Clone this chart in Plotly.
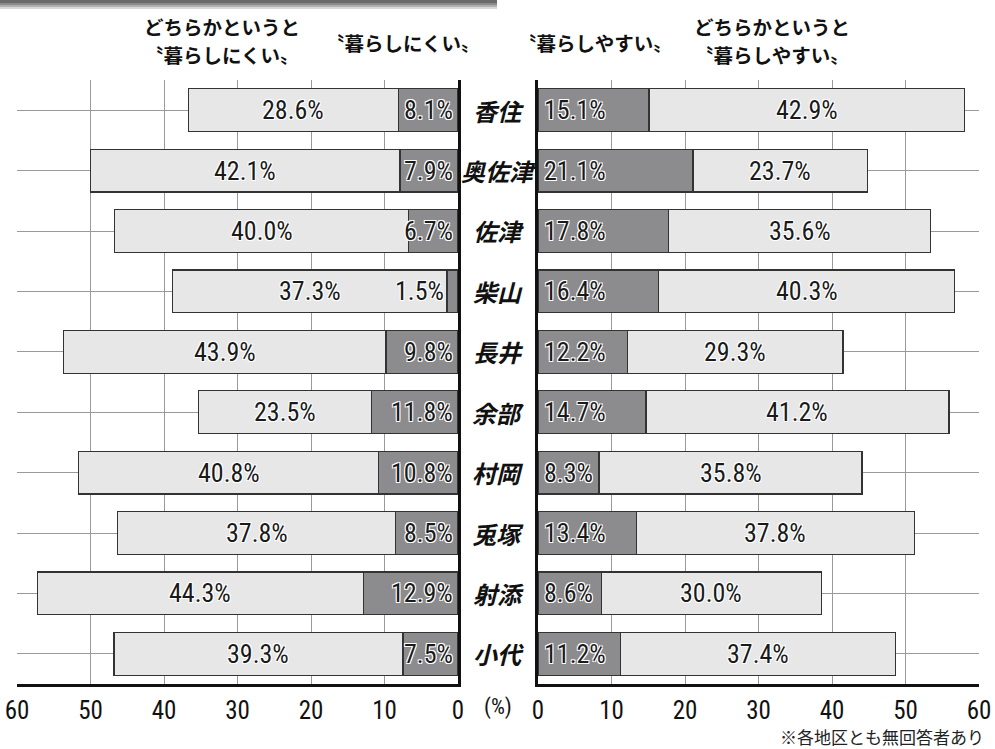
import plotly.graph_objects as go

W, H = 995, 749

regions = ["香住", "奥佐津", "佐津", "柴山", "長井", "余部", "村岡", "兎塚", "射添", "小代"]
hard_to_live = [8.1, 7.9, 6.7, 1.5, 9.8, 11.8, 10.8, 8.5, 12.9, 7.5]
rather_hard = [28.6, 42.1, 40.0, 37.3, 43.9, 23.5, 40.8, 37.8, 44.3, 39.3]
easy_to_live = [15.1, 21.1, 17.8, 16.4, 12.2, 14.7, 8.3, 13.4, 8.6, 11.2]
rather_easy = [42.9, 23.7, 35.6, 40.3, 29.3, 41.2, 35.8, 37.8, 30.0, 37.4]
tick_values = [0, 10, 20, 30, 40, 50, 60]

DARK = "#8c8c8e"
LIGHT = "#e6e7e6"
EDGE = "#333333"
GRID = "#9a9a9a"
NUM_FONT = "Roboto Condensed, Liberation Sans Narrow, Roboto, sans-serif"
JP_FONT = "Noto Sans CJK JP, sans-serif"
OUTLINE = "1px 1px 0 #fff, -1px -1px 0 #fff, 1px -1px 0 #fff, -1px 1px 0 #fff"


def px(x):
    return x / W


def py(y):
    return 1 - y / H


fig = go.Figure()

bar_kw = dict(orientation="h", width=0.71, marker_line_color=EDGE, marker_line_width=1.3,
              hoverinfo="skip", showlegend=False)

fig.add_trace(go.Bar(y=regions, x=hard_to_live, marker_color=DARK, xaxis="x", yaxis="y", **bar_kw))
fig.add_trace(go.Bar(y=regions, x=rather_hard, marker_color=LIGHT, xaxis="x", yaxis="y", **bar_kw))
fig.add_trace(go.Bar(y=regions, x=easy_to_live, marker_color=DARK, xaxis="x2", yaxis="y2", **bar_kw))
fig.add_trace(go.Bar(y=regions, x=rather_easy, marker_color=LIGHT, xaxis="x2", yaxis="y2", **bar_kw))

annotations = []
num_font = dict(family=NUM_FONT, size=26, color="#1a1a1a", shadow=OUTLINE)
for i, r in enumerate(regions):
    # left dark
    d = hard_to_live[i]
    ax = 0.4 if d >= 3 else d + 0.2
    annotations.append(dict(x=ax, y=r, xref="x", yref="y", text=f"{d:.1f}%", showarrow=False,
                            xanchor="right", yanchor="middle", font=num_font))
    l = rather_hard[i]
    annotations.append(dict(x=d + l / 2, y=r, xref="x", yref="y", text=f"{l:.1f}%", showarrow=False,
                            xanchor="center", yanchor="middle", font=num_font))
    # right
    d2 = easy_to_live[i]
    annotations.append(dict(x=0.5, y=r, xref="x2", yref="y2", text=f"{d2:.1f}%", showarrow=False,
                            xanchor="left", yanchor="middle", font=num_font))
    l2 = rather_easy[i]
    annotations.append(dict(x=d2 + l2 / 2, y=r, xref="x2", yref="y2", text=f"{l2:.1f}%", showarrow=False,
                            xanchor="center", yanchor="middle", font=num_font))
    # category label in the middle
    annotations.append(dict(x=px(498), y=r, xref="paper", yref="y", text=f"<b><i>{r}</i></b>",
                            showarrow=False, xanchor="center", yanchor="middle",
                            font=dict(family=JP_FONT, size=24, color="#111111")))

hdr_font = dict(family=JP_FONT, size=19.5, color="#111111")
headers = [
    (222, 27, "<b>どちらかというと</b>"),
    (222, 55, "<b>〝暮らしにくい〟</b>"),
    (403, 42, "<b>〝暮らしにくい〟</b>"),
    (595, 42, "<b>〝暮らしやすい〟</b>"),
    (772, 27, "<b>どちらかというと</b>"),
    (772, 55, "<b>〝暮らしやすい〟</b>"),
]
for x, y, t in headers:
    annotations.append(dict(x=px(x), y=py(y), xref="paper", yref="paper", text=t, showarrow=False,
                            xanchor="center", yanchor="middle", font=hdr_font))

annotations.append(dict(x=px(498), y=py(707), xref="paper", yref="paper", text="(%)", showarrow=False,
                        xanchor="center", yanchor="middle",
                        font=dict(family=NUM_FONT, size=22, color="#111111")))
annotations.append(dict(x=px(986), y=py(736), xref="paper", yref="paper", text="※各地区とも無回答者あり",
                        showarrow=False, xanchor="right", yanchor="middle",
                        font=dict(family=JP_FONT, size=17, color="#222222")))

# top header bar remnant (gray band with soft shadow)
shapes = []
bands = [(0, 3, "#6a6a6a"), (3, 5, "#8a8a8a"), (5, 7, "#b0b0b0"), (7, 9, "#d8d8d8")]
for y0, y1, c in bands:
    shapes.append(dict(type="rect", xref="paper", yref="paper", x0=0, x1=px(497), y0=py(y1), y1=py(y0),
                       fillcolor=c, line_width=0, layer="above"))

xaxis_common = dict(
    tickvals=tick_values, ticktext=[str(v) for v in tick_values],
    showgrid=True, gridcolor=GRID, gridwidth=1, zeroline=False,
    showline=True, linecolor="#111111", linewidth=3,
    ticks="outside", ticklen=2, tickcolor="rgba(0,0,0,0)",
    tickfont=dict(family=NUM_FONT, size=25, color="#111111"),
    fixedrange=True, automargin=False,
)
yaxis_common = dict(
    type="category", categoryorder="array", categoryarray=regions,
    range=[9.5, -0.5], showgrid=True, gridcolor=GRID, gridwidth=1,
    showticklabels=False, ticks="", zeroline=False,
    showline=True, linecolor="#111111", linewidth=2.5,
    domain=[py(684), py(80)], fixedrange=True, automargin=False,
)

fig.update_layout(
    width=W, height=H,
    margin=dict(l=0, r=0, t=0, b=0, autoexpand=False),
    paper_bgcolor="white", plot_bgcolor="white",
    barmode="stack", bargap=0.29,
    xaxis=dict(domain=[px(17), px(458)], range=[60, 0], anchor="y", **xaxis_common),
    xaxis2=dict(domain=[px(538), px(979)], range=[0, 60], anchor="y2", **xaxis_common),
    yaxis=dict(anchor="x", side="right", **yaxis_common),
    yaxis2=dict(anchor="x2", side="left", **yaxis_common),
    annotations=annotations,
    shapes=shapes,
)

fig.write_html("out.html")
